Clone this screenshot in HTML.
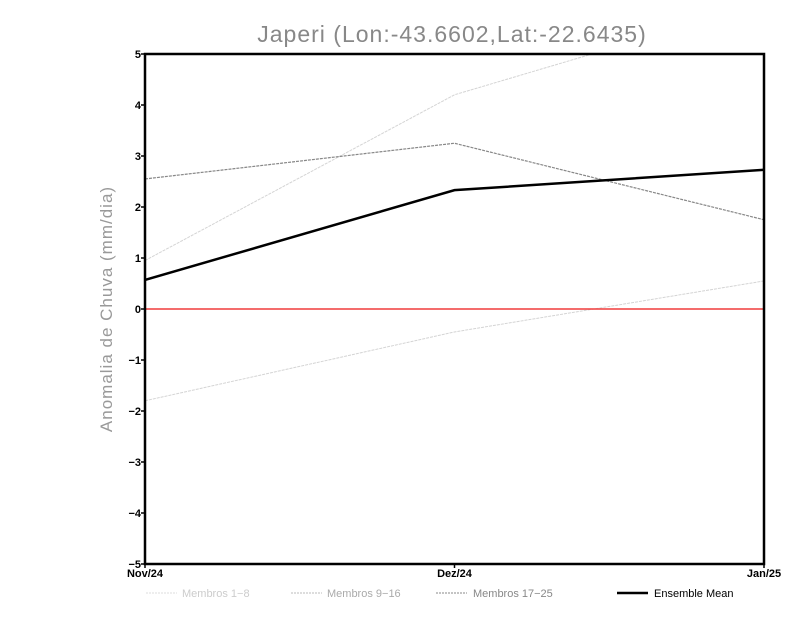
<!DOCTYPE html>
<html><head><meta charset="utf-8"><style>
html,body{margin:0;padding:0;background:#fff;}
svg{display:block;font-family:"Liberation Sans",sans-serif;}
</style></head><body>
<svg id="chart" width="800" height="618" viewBox="0 0 800 618">
<text x="452" y="42" font-size="23" fill="#888" text-anchor="middle" style="letter-spacing:1px">Japeri (Lon:-43.6602,Lat:-22.6435)</text>
<text transform="translate(112,309) rotate(-90)" font-size="17" fill="#999" text-anchor="middle" style="letter-spacing:1px">Anomalia de Chuva (mm/dia)</text>
<defs><clipPath id="plotclip"><rect x="145" y="54" width="619" height="510"/></clipPath></defs>
<g id="marks" clip-path="url(#plotclip)"></g>
<rect x="145" y="54" width="619" height="510" fill="none" stroke="#000" stroke-width="2.5"/>
<g id="axes"></g>
<g font-size="11">
<g><line x1="146" y1="593" x2="177" y2="593" stroke="#ddd" stroke-dasharray="2,1"/><text x="182" y="597" fill="#ccc">Membros 1−8</text></g>
<g><line x1="291" y1="593" x2="322" y2="593" stroke="#bbb" stroke-dasharray="2,1"/><text x="327" y="597" fill="#aaa">Membros 9−16</text></g>
<g><line x1="436" y1="593" x2="467" y2="593" stroke="#888" stroke-dasharray="2,1"/><text x="473" y="597" fill="#888">Membros 17−25</text></g>
<g><line x1="617" y1="593" x2="648" y2="593" stroke="#000" stroke-width="2.5"/><text x="654" y="597" fill="#000">Ensemble Mean</text></g>
</g>
</svg>
<script>
const categories = ["Nov/24","Dez/24","Jan/25"];
const yTicks = [-5,-4,-3,-2,-1,0,1,2,3,4,5];
const memberA = [0.95, 4.2, 6.0];
const memberB = [-1.8, -0.45, 0.55];
const memberC = [2.55, 3.25, 1.75];
const ensembleMean = [0.57, 2.33, 2.73];
const NS="http://www.w3.org/2000/svg";
const x0=145,x1=764,y0=564,y1=54;
function xs(i){return x0+(x1-x0)*i/(categories.length-1);}
function ys(v){return y0-(v+5)/10*(y0-y1);}
const marks=document.getElementById('marks'), axes=document.getElementById('axes');
function mk(tag,attrs,parent){const e=document.createElementNS(NS,tag);for(const k in attrs)e.setAttribute(k,attrs[k]);parent.appendChild(e);return e;}
const series=[[memberA,"#d4d4d4",1,"3,1","series-membro-a"],[memberB,"#d4d4d4",1,"3,1","series-membro-b"],[memberC,"#888",1.2,"3,1","series-membros-17-25"]];
for(const s of series){
  const p=mk('polyline',{points:s[0].map((v,i)=>xs(i)+','+ys(v)).join(' '),fill:'none',stroke:s[1],'stroke-width':s[2],'stroke-dasharray':s[3]},marks);
  
  
}
const z=mk('line',{x1:x0,x2:x1,y1:ys(0),y2:ys(0),stroke:'#f03c3c','stroke-width':1.5},marks);


const em=mk('polyline',{points:ensembleMean.map((v,i)=>xs(i)+','+ys(v)).join(' '),fill:'none',stroke:'#000','stroke-width':2.5},marks);


for(const t of yTicks){
  const y=ys(t);
  mk('line',{x1:x0-4,x2:x0,y1:y,y2:y,stroke:'#000','stroke-width':1.5},axes);
  const tx=mk('text',{x:x0-4,y:y+4,'font-size':11,'font-weight':'bold','text-anchor':'end'},axes);
  tx.textContent=t<0?'−'+(-t):String(t);
  
  
}
categories.forEach((c,i)=>{
  const x=xs(i);
  mk('line',{x1:x,x2:x,y1:y0,y2:y0+4,stroke:'#000','stroke-width':1.5},axes);
  const tx=mk('text',{x:x,y:y0+13,'font-size':11,'font-weight':'bold','text-anchor':'middle'},axes);
  tx.textContent=c;
  
  
});
</script>
</body></html>
